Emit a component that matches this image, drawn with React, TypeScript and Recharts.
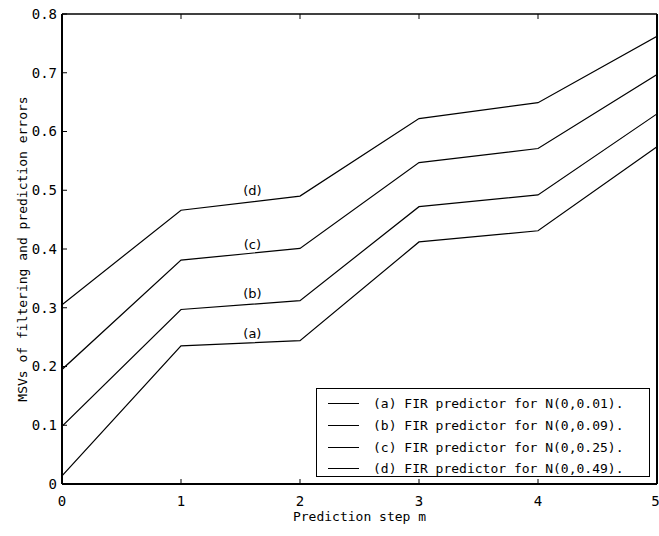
import React from 'react'
import {
  LineChart,
  Line,
  XAxis,
  YAxis,
  Legend,
  ReferenceDot,
} from 'recharts'

// prediction steps and MSV readings for each noise level
const steps = [0, 1, 2, 3, 4, 5]
const msvA = [0.014, 0.235, 0.244, 0.412, 0.431, 0.574]
const msvB = [0.098, 0.297, 0.312, 0.472, 0.492, 0.63]
const msvC = [0.195, 0.381, 0.401, 0.547, 0.571, 0.697]
const msvD = [0.305, 0.466, 0.49, 0.622, 0.649, 0.762]

const seriesKeys = ['a', 'b', 'c', 'd']
const legendLabels = [
  '(a) FIR predictor for N(0,0.01).',
  '(b) FIR predictor for N(0,0.09).',
  '(c) FIR predictor for N(0,0.25).',
  '(d) FIR predictor for N(0,0.49).',
]
const tagLabels = ['(a)', '(b)', '(c)', '(d)']
const tagX = [1.6, 1.6, 1.6, 1.6]
const tagY = [0.257, 0.324, 0.408, 0.5]

const xTicks = [0, 1, 2, 3, 4, 5]
const yTicks = [0, 0.1, 0.2, 0.3, 0.4, 0.5, 0.6, 0.7, 0.8]

const data = steps.map((m, i) => ({
  m,
  a: msvA[i],
  b: msvB[i],
  c: msvC[i],
  d: msvD[i],
}))

const MONO = '"DejaVu Sans Mono", "Liberation Mono", monospace'

const LegendBox = () => (
  <div
    style={{
      boxSizing: 'border-box',
      width: 334,
      height: 89,
      border: '1.5px solid #000',
      background: '#fff',
      paddingTop: 4,
      fontFamily: MONO,
      fontSize: 13,
      color: '#000',
    }}
  >
    {legendLabels.map((label) => (
      <div
        key={label}
        style={{ display: 'flex', alignItems: 'center', height: 21.7 }}
      >
        <div
          style={{
            width: 31,
            height: 1,
            background: '#000',
            marginLeft: 11,
            marginRight: 14,
          }}
        />
        <span style={{ whiteSpace: 'pre' }}>{label}</span>
      </div>
    ))}
  </div>
)

const YTitle = (props: any) => {
  const vb = props.viewBox
  const cy = vb.y + vb.height / 2
  return (
    <text
      x={22}
      y={cy}
      transform={`rotate(-90, 22, ${cy})`}
      textAnchor='middle'
      dominantBaseline='central'
      fontFamily={MONO}
      fontSize={13}
      fill='#000'
    >
      MSVs of filtering and prediction errors
    </text>
  )
}

// frame axes keep their inward tick marks but show no numbers
const NoLabel = () => <g />

export default function App() {
  const tickStyle = { fontFamily: MONO, fontSize: 14, fill: '#000' }

  return (
    <div
      style={{
        position: 'absolute',
        left: 0,
        top: 0,
        width: 659,
        height: 536,
        background: '#fff',
      }}
    >
      <LineChart
        width={659}
        height={536}
        data={data}
        margin={{ top: 13, right: 1, bottom: 0, left: 0 }}
      >
        <XAxis
          dataKey='m'
          type='number'
          domain={[0, 5]}
          ticks={xTicks}
          tickSize={-5}
          tickMargin={17}
          tick={tickStyle}
          axisLine={{ stroke: '#000', strokeWidth: 2 }}
          tickLine={{ stroke: '#000' }}
          height={52}
          allowDataOverflow
          label={{
            value: 'Prediction step m',
            position: 'insideBottom',
            offset: 15,
            style: { fontFamily: MONO, fontSize: 13, fill: '#000' },
          }}
        />
        <XAxis
          xAxisId='top'
          orientation='top'
          type='number'
          domain={[0, 5]}
          ticks={xTicks}
          tickSize={-5}
          tick={NoLabel}
          height={1}
          axisLine={{ stroke: '#000', strokeWidth: 1.5 }}
          tickLine={{ stroke: '#000' }}
        />
        <YAxis
          type='number'
          domain={[0, 0.8]}
          ticks={yTicks}
          width={62}
          tickSize={-5}
          tickMargin={10}
          tick={tickStyle}
          tickFormatter={(v: number) => (v === 0 ? '0' : v.toFixed(1))}
          axisLine={{ stroke: '#000', strokeWidth: 2 }}
          tickLine={{ stroke: '#000' }}
          allowDataOverflow
          label={<YTitle />}
        />
        <YAxis
          yAxisId='right'
          orientation='right'
          type='number'
          domain={[0, 0.8]}
          ticks={yTicks}
          width={1}
          tickSize={-5}
          tick={NoLabel}
          axisLine={{ stroke: '#000', strokeWidth: 2 }}
          tickLine={{ stroke: '#000' }}
        />
        {seriesKeys.map((k, i) => (
          <Line
            key={k}
            dataKey={k}
            name={legendLabels[i]}
            type='linear'
            stroke='#000'
            strokeWidth={1.2}
            dot={false}
            activeDot={false}
            isAnimationActive={false}
          />
        ))}
        {tagLabels.map((t, i) => (
          <ReferenceDot
            key={t}
            x={tagX[i]}
            y={tagY[i]}
            r={0}
            stroke='none'
            fill='none'
            label={{
              value: t,
              position: 'center',
              style: {
                fontFamily: '"DejaVu Sans", sans-serif',
                fontSize: 13,
                fill: '#000',
              },
            }}
          />
        ))}
        <Legend
          layout='horizontal'
          verticalAlign='middle'
          align='center'
          content={<LegendBox />}
          wrapperStyle={{
            position: 'absolute',
            left: 316,
            top: 388,
            width: 334,
            height: 89,
          }}
        />
      </LineChart>
    </div>
  )
}
